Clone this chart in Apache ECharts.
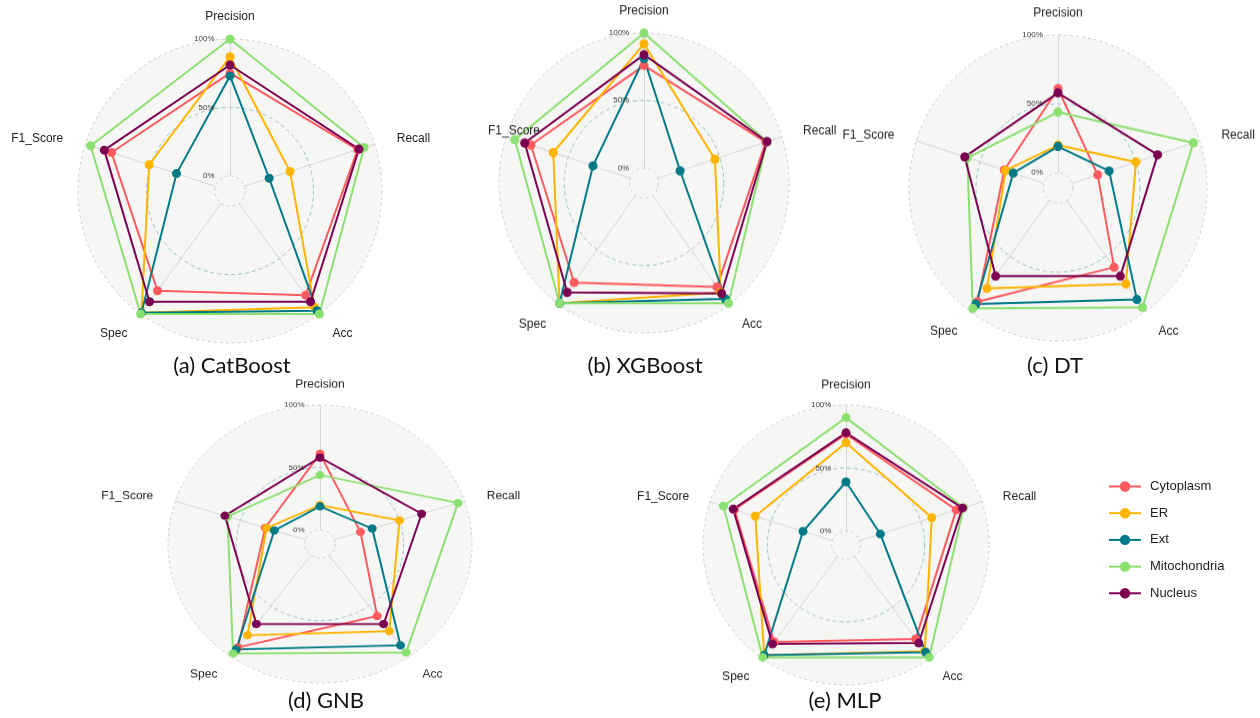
<!DOCTYPE html>
<html>
<head>
<meta charset="utf-8">
<script src="https://cdn.jsdelivr.net/npm/echarts@6/dist/echarts.min.js"></script>
<style>
  html, body { margin: 0; padding: 0; width: 1260px; height: 718px; overflow: hidden; background: #ffffff; }
  #page { position: absolute; left: 0; top: 0; width: 1260px; height: 718px; }
  .panel { position: absolute; width: 500px; height: 400px; transform-origin: 50% 50%; }
</style>
</head>
<body>
<div id="page"></div>
<div id="pa" class="panel"></div>
<div id="pb" class="panel"></div>
<div id="pc" class="panel"></div>
<div id="pd" class="panel"></div>
<div id="pe" class="panel"></div>
<script>
// Indicator order runs counter-clockwise from the top.
const metrics = ['Precision', 'F1_Score', 'Spec', 'Acc', 'Recall'];
const classes = ['Cytoplasm', 'ER', 'Ext', 'Mitochondria', 'Nucleus'];
const colors = ['#FF5A5F', '#FFB400', '#007A87', '#8CE071', '#7B0051'];

// Grid rings and their labels
const gridTicks = [0, 0.5, 1];
const gridLabels = ['0%', '50%', '100%'];

// Scores per class, in metric order: Precision, F1_Score, Spec, Acc, Recall
const catboost = [
  [0.75, 0.80, 0.79, 0.83, 0.87],
  [0.87, 0.51, 0.99, 0.94, 0.35],
  [0.73, 0.30, 0.99, 0.97, 0.19],
  [1.00, 0.96, 1.00, 1.00, 0.92],
  [0.81, 0.855, 0.89, 0.89, 0.88]
];
const xgboost = [
  [0.76, 0.80, 0.80, 0.84, 0.87],
  [0.92, 0.62, 0.99, 0.89, 0.46],
  [0.81, 0.30, 0.99, 0.95, 0.18],
  [1.00, 0.93, 0.99, 0.99, 0.88],
  [0.84, 0.85, 0.89, 0.90, 0.88]
];
const dt = [
  [0.61, 0.31, 0.91, 0.60, 0.20],
  [0.20, 0.30, 0.79, 0.75, 0.50],
  [0.19, 0.24, 0.93, 0.89, 0.29],
  [0.44, 0.60, 0.97, 0.96, 0.95],
  [0.58, 0.62, 0.68, 0.68, 0.67]
];
const gnb = [
  [0.61, 0.31, 0.91, 0.60, 0.20],
  [0.20, 0.30, 0.79, 0.75, 0.50],
  [0.19, 0.24, 0.93, 0.89, 0.29],
  [0.44, 0.60, 0.97, 0.96, 0.95],
  [0.58, 0.62, 0.68, 0.68, 0.67]
];
const mlp = [
  [0.77, 0.80, 0.84, 0.81, 0.79],
  [0.70, 0.63, 0.97, 0.93, 0.59],
  [0.39, 0.24, 0.97, 0.94, 0.17],
  [0.90, 0.89, 0.99, 0.99, 0.85],
  [0.78, 0.81, 0.86, 0.85, 0.84]
];

const captions = ['(a) CatBoost', '(b) XGBoost', '(c) DT', '(d) GNB', '(e) MLP'];

// Value range: the centre sits below 0 so the 0% ring is a small hole.
const MIN = -1 / 9, MAX = 1;
const W = 500, H = 400;
const labelFont = '"Liberation Sans", Arial, Helvetica, sans-serif';

const panels = [
  { id: 'pa', data: catboost, cx: 229.5, cy: 191.3, rx: 152, ry: 152, f1Inside: false, caption: [232, 366] },
  { id: 'pb', data: xgboost,  cx: 644,   cy: 183,   rx: 145, ry: 150, f1Inside: true,  caption: [645, 366] },
  { id: 'pc', data: dt,       cx: 1057.5, cy: 188.3, rx: 149, ry: 153, f1Inside: false, caption: [1055, 366] },
  { id: 'pd', data: gnb,      cx: 319.5, cy: 544,   rx: 152, ry: 139, f1Inside: false, caption: [326, 701] },
  { id: 'pe', data: mlp,      cx: 845.5, cy: 545,   rx: 143, ry: 140, f1Inside: false, caption: [845, 701] }
];

function ringRadius(r, v) { return r * (v - MIN) / (MAX - MIN); }

function radarBase(radius) {
  return {
    center: ['50%', '50%'],
    radius: radius,
    startAngle: 90,
    shape: 'circle',
    splitNumber: 1,
    indicator: metrics.map(function (n) { return { name: n, min: MIN, max: MAX }; }),
    axisName: { show: false },
    axisTick: { show: false },
    axisLabel: { show: false }
  };
}

function text(x, y, str, align, vAlign, font, fill) {
  return {
    type: 'text', x: x, y: y, z: 10, silent: true,
    style: { text: str, font: font, fill: fill, align: align, verticalAlign: vAlign,
             textAlign: align, textVerticalAlign: vAlign }
  };
}

function panelOption(p) {
  const ox = W / 2, oy = H / 2, r = p.rx;
  const bg = '#f6f6f5';

  const outer = Object.assign(radarBase(r), {
    axisLine: { show: true, lineStyle: { color: '#d6d6d6', width: 1 } },
    splitLine: { show: true, lineStyle: { color: '#c2c2c2', width: 0.8, type: [3, 3] } },
    splitArea: { show: true, areaStyle: { color: [bg] } }
  });
  const mid = Object.assign(radarBase(ringRadius(r, 0.5)), {
    axisLine: { show: false },
    splitLine: { show: true, lineStyle: { color: '#86b6be', width: 0.8, type: [4, 3] } },
    splitArea: { show: false }
  });
  const inner = Object.assign(radarBase(ringRadius(r, 0)), {
    z: 1,
    axisLine: { show: false },
    splitLine: { show: true, lineStyle: { color: '#c6c6c6', width: 0.8, type: [3, 3] } },
    splitArea: { show: true, areaStyle: { color: [bg] } }
  });

  const font12 = '12px ' + labelFont;
  const nameColor = '#222';
  const graphics = [
    text(ox, oy - 1.145 * r, 'Precision', 'center', 'middle', font12, nameColor),
    text(ox + 1.097 * r, oy - 0.345 * r, 'Recall', 'left', 'middle', font12, nameColor),
    p.f1Inside
      ? text(ox - 1.076 * r, oy - 0.345 * r, 'F1_Score', 'left', 'middle', font12, nameColor)
      : text(ox - 1.097 * r, oy - 0.345 * r, 'F1_Score', 'right', 'middle', font12, nameColor),
    text(ox - 0.675 * r, oy + 0.94 * r, 'Spec', 'right', 'middle', font12, nameColor),
    text(ox + 0.675 * r, oy + 0.94 * r, 'Acc', 'left', 'middle', font12, nameColor)
  ];
  gridTicks.forEach(function (v, i) {
    graphics.push(text(ox - 0.102 * r, oy - ringRadius(r, v), gridLabels[i], 'right', 'middle',
                       '8px ' + labelFont, '#3a3a3a'));
  });

  const lines = classes.map(function (c, i) {
    return {
      type: 'radar', radarIndex: 0, z: 2, symbol: 'none',
      lineStyle: { width: 2, color: colors[i] },
      itemStyle: { color: colors[i] },
      data: [{ name: c, value: p.data[i] }]
    };
  });
  const points = classes.map(function (c, i) {
    return {
      type: 'radar', radarIndex: 0, z: 3, symbol: 'circle', symbolSize: 9,
      lineStyle: { width: 0, opacity: 0 },
      itemStyle: { color: colors[i] },
      data: [{ name: c, value: p.data[i] }]
    };
  });

  return {
    animation: false,
    radar: [outer, mid, inner],
    graphic: graphics,
    series: lines.concat(points)
  };
}

panels.forEach(function (p) {
  const el = document.getElementById(p.id);
  el.style.left = (p.cx - W / 2) + 'px';
  el.style.top = (p.cy - H / 2) + 'px';
  el.style.transform = 'scaleY(' + (p.ry / p.rx) + ')';
  const chart = echarts.init(el, null, { renderer: 'canvas', width: W, height: H });
  chart.setOption(panelOption(p));
});

// Page layer: legend and panel captions
const page = echarts.init(document.getElementById('page'), null, { renderer: 'canvas', width: 1260, height: 718 });
page.setOption({
  animation: false,
  grid: { show: false, left: 0, top: 0, width: 10, height: 10 },
  xAxis: { type: 'value', show: false },
  yAxis: { type: 'value', show: false },
  legend: {
    orient: 'vertical',
    left: 1103,
    top: 475,
    itemWidth: 32,
    itemHeight: 13,
    itemGap: 13.7,
    selectedMode: false,
    textStyle: { fontSize: 13, color: '#222', fontFamily: labelFont, padding: [0, 0, 0, 4] },
    data: classes
  },
  series: classes.map(function (c, i) {
    return {
      type: 'line', name: c, data: [], symbol: 'circle',
      lineStyle: { width: 2, color: colors[i] },
      itemStyle: { color: colors[i] }
    };
  }),
  graphic: panels.map(function (p, i) {
    return text(p.caption[0], p.caption[1], captions[i], 'center', 'middle',
                '22px Lato, "Open Sans", sans-serif', '#111');
  })
});
</script>
</body>
</html>
